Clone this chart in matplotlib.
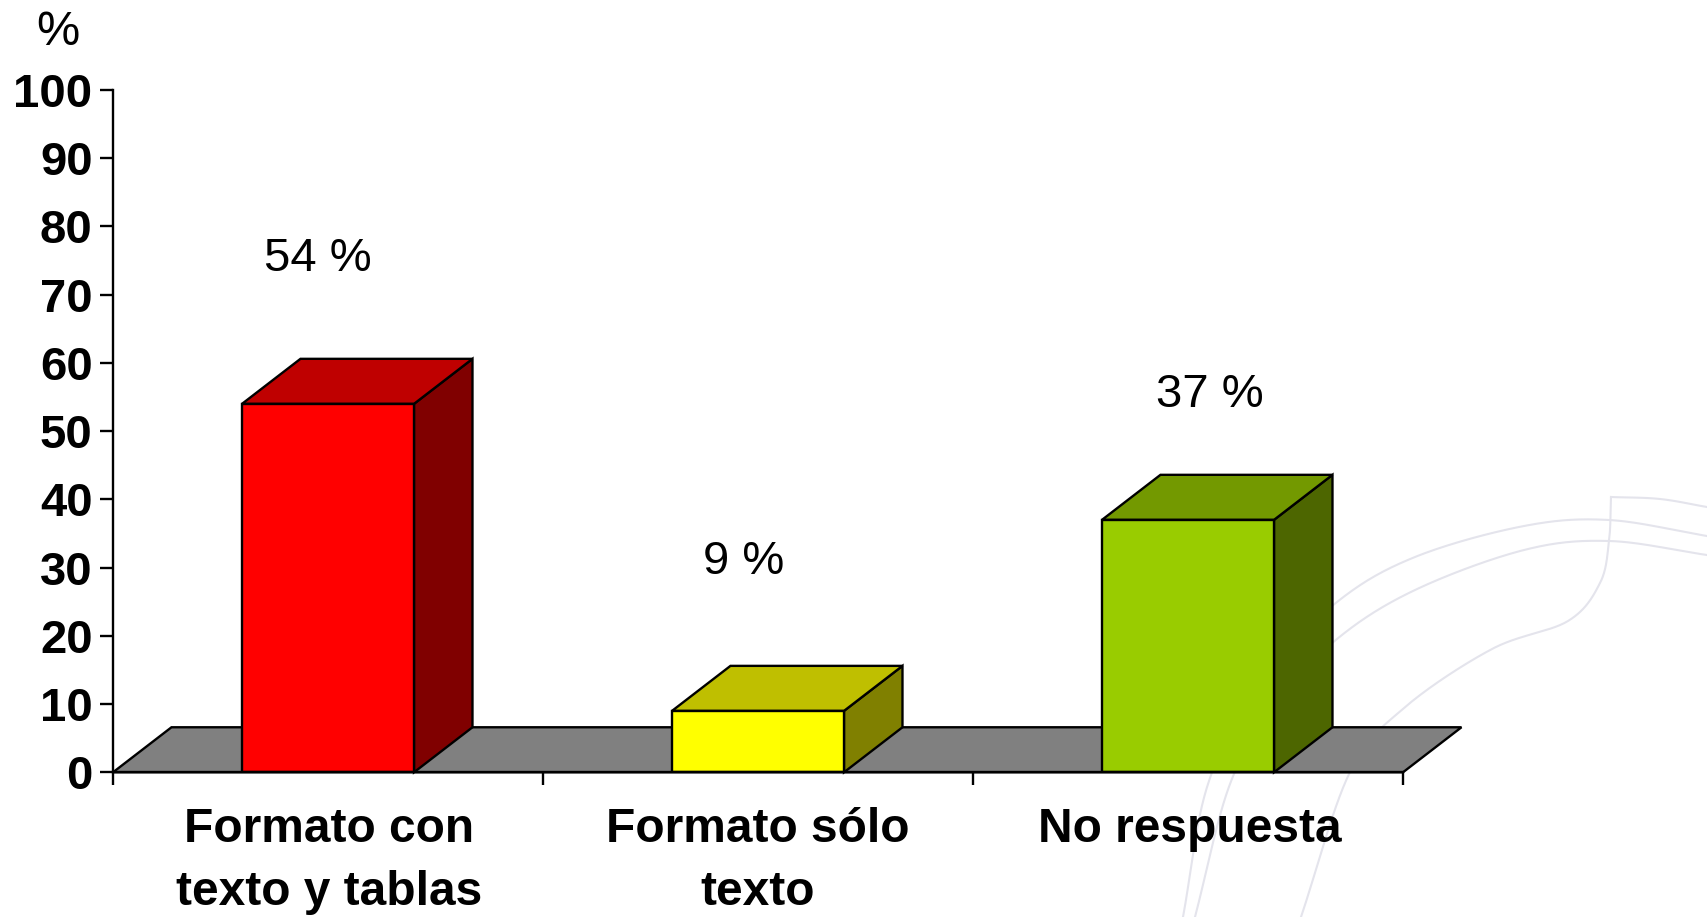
import numpy as np
import matplotlib
matplotlib.use('Agg')
import matplotlib.pyplot as plt
from matplotlib.patches import Polygon

plt.rcParams['font.family'] = ['Liberation Sans', 'DejaVu Sans']

categories = ['Formato con\ntexto y tablas', 'Formato sólo\ntexto', 'No respuesta']
values = [54, 9, 37]
value_labels = ['54 %', '9 %', '37 %']
yticks = [0, 10, 20, 30, 40, 50, 60, 70, 80, 90, 100]

front_colors = ['#FF0000', '#FFFF00', '#99CC00']
top_colors = ['#BF0000', '#BFBF00', '#739900']
side_colors = ['#800000', '#808000', '#4D6600']

# where the value labels sit, in axis units
label_x = [0.477, 1.466, 2.551]
label_y = [73.5, 29.1, 53.6]

W, H = 1707, 917
bar_w = 0.4
depth_x = 0.136
depth_y = 6.6
lw = 1.7


def smooth(points, n=30):
	# catmull-rom through the given points
	p = np.array(points, dtype=float)
	p = np.vstack([2 * p[0] - p[1], p, 2 * p[-1] - p[-2]])
	out = []
	for i in range(1, len(p) - 2):
		t = np.linspace(0, 1, n)[:, None]
		a, b, c, d = p[i - 1], p[i], p[i + 1], p[i + 2]
		out.append(0.5 * (2 * b + (c - a) * t + (2 * a - 5 * b + 4 * c - d) * t**2
			+ (3 * b - a - 3 * c + d) * t**3))
	return np.vstack(out)


fig = plt.figure(figsize=(W / 100, H / 100), dpi=100, facecolor='white')

# faint slide decoration behind the chart, in pixel coordinates
bg = fig.add_axes([0, 0, 1, 1], zorder=0)
bg.set_xlim(0, W)
bg.set_ylim(H, 0)
bg.axis('off')
curves = [
	[(1183, 917), (1208, 784), (1260, 680), (1337, 602), (1415, 557), (1524, 526), (1609, 520), (1707, 536)],
	[(1195, 917), (1230, 784), (1275, 705), (1337, 639), (1415, 590), (1524, 550), (1609, 541), (1707, 555)],
	[(1301, 917), (1350, 772), (1404, 708), (1492, 649), (1568, 621), (1600, 583), (1609, 541), (1611, 497)],
	[(1611, 497), (1660, 499), (1707, 507)],
]
for c in curves:
	xy = smooth(c)
	bg.plot(xy[:, 0], xy[:, 1], color='#E4E4EC', lw=1.5)

ax = fig.add_axes([113 / W, 1 - 772.3 / H, 1290 / W, 682.3 / H], zorder=1)
ax.patch.set_alpha(0)
ax.set_xlim(0, 3)
ax.set_ylim(0, 100)
for s in ['top', 'right']:
	ax.spines[s].set_visible(False)
for s in ['left', 'bottom']:
	ax.spines[s].set_linewidth(lw)
	ax.spines[s].set_zorder(6)

# floor of the pseudo 3d chart
ax.add_patch(Polygon([(0, 0), (depth_x, depth_y), (3 + depth_x, depth_y), (3, 0)],
	closed=True, fc='#808080', ec='black', lw=lw, clip_on=False, zorder=1))

for i, v in enumerate(values):
	x0 = i + 0.5 - bar_w / 2
	x1 = i + 0.5 + bar_w / 2
	ax.add_patch(Polygon([(x1, 0), (x1 + depth_x, depth_y), (x1 + depth_x, v + depth_y), (x1, v)],
		closed=True, fc=side_colors[i], ec='black', lw=lw, clip_on=False, zorder=3))
	ax.add_patch(Polygon([(x0, v), (x0 + depth_x, v + depth_y), (x1 + depth_x, v + depth_y), (x1, v)],
		closed=True, fc=top_colors[i], ec='black', lw=lw, clip_on=False, zorder=3))
	ax.bar(i + 0.5, v, width=bar_w, color=front_colors[i], edgecolor='black', linewidth=lw, zorder=4)
	ax.text(label_x[i], label_y[i], value_labels[i], ha='center', va='baseline', fontsize=34, zorder=5)

ax.set_yticks(yticks)
ax.tick_params(axis='y', length=9.5, width=lw, pad=5.2, labelsize=34)
for t in ax.get_yticklabels():
	t.set_fontweight('bold')

ax.set_xticks([0, 1, 2, 3])
ax.set_xticklabels([])
ax.tick_params(axis='x', which='major', length=9.5, width=lw)
ax.set_xticks([0.502, 1.5, 2.505], minor=True)
ax.set_xticklabels(categories, minor=True, fontsize=34.5, fontweight='bold', linespacing=1.5)
ax.tick_params(axis='x', which='minor', length=0, pad=25)

fig.text(58 / W, 1 - 45 / H, '%', ha='center', va='baseline', fontsize=35)

fig.savefig('out.png', dpi=100)
